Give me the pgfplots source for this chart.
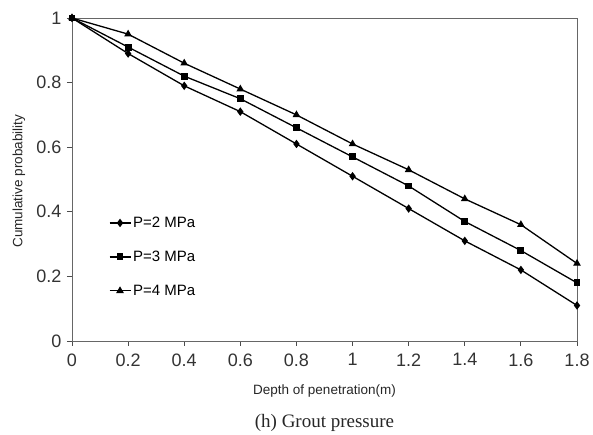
\documentclass[border=0pt]{standalone}
\usepackage{pgfplots}
\pgfplotsset{compat=1.18}
\usepackage{fontspec}
\setmainfont{Liberation Serif}
\newfontfamily\arial{Liberation Sans}

\begin{document}
\begin{tikzpicture}
\begin{axis}[
    name=ax,
    scale only axis,
    width=505pt, height=323pt,
    xmin=0, xmax=1.8,
    ymin=0, ymax=1,
    xtick={0,0.2,...,1.8},
    ytick={0,0.2,...,1},
    tick align=outside,
    xtick pos=bottom, ytick pos=left,
    major tick length=5pt,
    axis line style={draw=black!60, line width=0.8pt},
    tick style={black!70, line width=0.8pt},
    tick label style={font=\arial\fontsize{18}{20}\selectfont, text=black!80},
    /pgf/number format/assume math mode=true,
    xticklabel style={yshift=-4pt},
    yticklabel style={xshift=-2pt},
    xlabel={Depth of penetration(m)},
    ylabel={Cumulative probability},
    label style={font=\arial\fontsize{13.5}{15}\selectfont, text=black!85},
    xlabel style={at={(axis description cs:0.5,0)}, anchor=center, yshift=-50pt},
    ylabel style={at={(axis description cs:0,0.495)}, anchor=center, rotate=0, yshift=53pt},
    every axis plot/.append style={black, line width=1.3pt},
    legend style={draw=none, fill=none, at={(axis cs:0.12,0.397)}, anchor=north west,
        font=\arial\fontsize{15}{17}\selectfont, row sep=18pt},
    legend cell align=left,
    legend image code/.code={
        \draw[#1] (0pt,0pt) -- (21pt,0pt);
        \draw[#1, only marks] plot coordinates {(10.5pt,0pt)};
    },
]
\addplot[mark=diamond*, mark size=3.2pt] coordinates {
(0,1) (0.2,0.89) (0.4,0.79) (0.6,0.71) (0.8,0.61) (1.0,0.51) (1.2,0.41) (1.4,0.31) (1.6,0.22) (1.8,0.11)
};
\addlegendentry{P=2 MPa}
\addplot[mark=square*, mark size=2.8pt] coordinates {
(0,1) (0.2,0.91) (0.4,0.82) (0.6,0.75) (0.8,0.66) (1.0,0.57) (1.2,0.48) (1.4,0.37) (1.6,0.28) (1.8,0.18)
};
\addlegendentry{P=3 MPa}
\addplot[mark=triangle*, mark size=3.2pt] coordinates {
(0,1) (0.2,0.95) (0.4,0.86) (0.6,0.78) (0.8,0.70) (1.0,0.61) (1.2,0.53) (1.4,0.44) (1.6,0.36) (1.8,0.24)
};
\addlegendentry{P=4 MPa}
\end{axis}
\node[font=\fontsize{19}{21}\selectfont, text=black!85] at ([yshift=-82pt]ax.south) {(h) Grout pressure};
\pgfresetboundingbox
\path[use as bounding box] (ax.south west) ++(-72pt,-94pt) rectangle ++(593pt,435pt);
\end{tikzpicture}
\end{document}
